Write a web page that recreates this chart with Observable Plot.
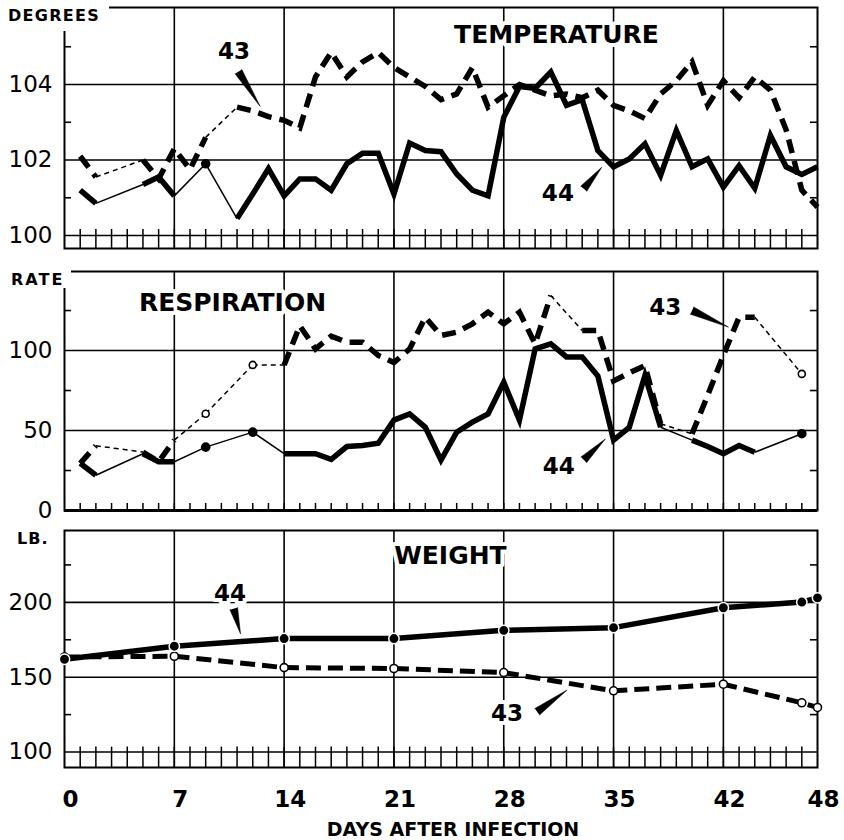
<!DOCTYPE html>
<html><head><meta charset="utf-8">
<script src="https://cdn.jsdelivr.net/npm/d3@7"></script>
<script src="https://cdn.jsdelivr.net/npm/@observablehq/plot@0.6"></script>
<style>
body{margin:0;background:#fff;}
#wrap{position:relative;width:844px;height:840px;background:#fff;overflow:hidden;font-family:"DejaVu Sans",sans-serif;}
.panel{position:absolute;left:0;}
.mask{position:absolute;background:#fff;}
.corner{position:absolute;font-weight:bold;font-size:16px;line-height:16px;color:#000;white-space:nowrap;}
</style></head><body>
<div id="wrap">
  <div class="panel" id="p1" style="top:0"></div>
  <div class="panel" id="p2" style="top:260px"></div>
  <div class="panel" id="p3" style="top:520px"></div>
  <div class="mask" style="left:0;top:0;width:109px;height:31px"></div>
  <div class="corner" style="left:8px;top:8px;letter-spacing:1.3px">DEGREES</div>
  <div class="mask" style="left:0;top:262px;width:71px;height:26px"></div>
  <div class="corner" style="left:11px;top:272px;letter-spacing:2px">RATE</div>
  <div class="corner" style="left:17px;top:531px;letter-spacing:1px">LB.</div>
</div>
<script>
// ---------- data ----------
const xTickLabels = [0, 7, 14, 21, 28, 35, 42, 48];
const weekLines = [7, 14, 21, 28, 35, 42];

const tempTicks = [100, 102, 104];
const tempMinor = [101, 103, 105];
const tempDays43 = [1,2,5,6,7,8,9,11,12,13,14,15,16,17,18,19,20,21,22,23,24,25,26,27,28,29,30,31,32,33,34,35,36,37,38,39,40,41,42,43,44,45,46,47,48];
const temp43 = [102.1,101.55,102.0,101.5,102.3,101.75,102.6,103.4,103.3,103.15,103.05,102.85,104.2,104.85,104.2,104.6,104.85,104.45,104.2,103.95,103.6,103.75,104.45,103.4,103.7,104.0,103.85,103.7,103.75,103.65,103.85,103.45,103.3,103.1,103.75,104.1,104.6,103.45,104.1,103.65,104.2,103.85,102.8,101.2,100.75];
const tempDays44 = [1,2,5,6,7,9,11,12,13,14,15,16,17,18,19,20,21,22,23,24,25,26,27,28,29,30,31,32,33,34,35,36,37,38,39,40,41,42,43,44,45,46,47,48];
const temp44 = [101.2,100.85,101.35,101.55,101.05,101.9,100.45,101.1,101.77,101.05,101.5,101.5,101.2,101.9,102.18,102.18,101.1,102.45,102.25,102.22,101.63,101.2,101.05,103.13,103.95,103.9,104.33,103.45,103.6,102.25,101.82,102.03,102.43,101.6,102.78,101.82,102.03,101.28,101.85,101.25,102.65,101.82,101.62,101.82];

const respTicks = [0, 50, 100];
const respMinor = [25, 75, 125];
const respDays43 = [1,2,5,6,7,9,12,14,15,16,17,18,19,20,21,22,23,24,25,26,27,28,29,30,31,33,34,35,36,37,38,40,41,42,43,44,47];
const resp43 = [29.5,40.5,36.5,30.5,44,60.5,91,91,115.5,101,109,105.2,105.2,97,92.5,101,120.8,109.4,111.5,116.7,124,116.7,124,104.2,134.4,112.5,112.5,81,86,90.6,54.2,47.9,72,97,120.8,120.8,85.4];
const respDays44 = [1,2,5,6,7,9,12,14,15,16,17,18,19,20,21,22,23,24,25,26,27,28,29,30,31,32,33,34,35,36,37,38,40,41,42,43,44,47];
const resp44 = [29.5,22,35.5,30.5,30.5,39.6,49,35.5,35.5,35.5,32,40,40.6,42,56.5,60.4,52,31.5,49,55.2,60.4,80.2,56.5,101,104.2,96,96,84,44,52,84.4,52,44,40,35.5,40.6,36.4,48];

const weightTicks = [100, 150, 200];
const weightMinor = [125, 175, 225];
const weightDays = [0, 7, 14, 21, 28, 35, 42, 47, 48];
const weight44 = [162, 170.7, 175.8, 175.8, 181.3, 183.1, 196.4, 200.2, 203];
const weight43 = [163.5, 164, 156.4, 155.8, 153.1, 140.9, 145.3, 132.9, 129.8];

// annotation placements (data units) kept apart from the data
const tempNotes = [{t: "TEMPERATURE", day: 31.36, v: 105.3, size: 25}, {t: "43", day: 10.8, v: 104.86, size: 23}, {t: "44", day: 31.45, v: 101.1, size: 23}];
const tempLeaders = [{day: 11.09, v: 104.34, len: 41, rot: 148}, {day: 33.1, v: 101.24, len: 28, rot: 40}];
const respNotes = [{t: "RESPIRATION", day: 10.71, v: 129.7, size: 25}, {t: "43", day: 38.3, v: 126.6, size: 23}, {t: "44", day: 31.5, v: 27.2, size: 23}];
const respLeaders = [{day: 40.0, v: 125, len: 40, rot: 114.5}, {day: 33.1, v: 31.7, len: 30, rot: 46}];
const weightNotes = [{t: "WEIGHT", day: 24.6, v: 230.7, size: 25}, {t: "44", day: 10.55, v: 205.7, size: 23}, {t: "43", day: 28.2, v: 125.7, size: 23}];
const weightLeaders = [{day: 10.79, v: 195.8, len: 26, rot: 165}, {day: 30.13, v: 126.9, len: 37, rot: 54}];

// ---------- helpers ----------
const dayTicks = d3.range(1, 48);

function build(days, vals) {
  const pts = days.map((d, i) => ({day: d, v: vals[i]}));
  let run = 0;
  pts.forEach((p, i) => { if (i > 0 && p.day - pts[i - 1].day > 1) run++; p.run = run; });
  const counts = d3.rollup(pts, g => g.length, p => p.run);
  const gaps = [];
  for (let i = 1; i < pts.length; i++) if (pts[i].day - pts[i - 1].day > 1) gaps.push({a: pts[i - 1], b: pts[i]});
  const lone = pts.filter(p => counts.get(p.run) === 1);
  return {pts, gaps, lone};
}

function seriesMarks(days, vals, dashed) {
  const s = build(days, vals);
  const thick = {x: "day", y: "v", z: "run", stroke: "black", strokeWidth: 5.5, strokeLinecap: "butt", strokeLinejoin: "miter", strokeMiterlimit: 4};
  if (dashed) thick.strokeDasharray = "14,8";
  const thin = {x1: d => d.a.day, y1: d => d.a.v, x2: d => d.b.day, y2: d => d.b.v, stroke: "black", strokeWidth: 1.5};
  if (dashed) thin.strokeDasharray = "5,4";
  return [
    Plot.link(s.gaps, thin),
    Plot.line(s.pts, thick),
    dashed
      ? Plot.dot(s.lone, {x: "day", y: "v", r: 3.5, fill: "white", stroke: "black", strokeWidth: 1.6})
      : Plot.dot(s.lone, {x: "day", y: "v", r: 4.8, fill: "black"})
  ];
}

function noteMarks(notes, leaders) {
  return [
    ...leaders.map(d => Plot.spike([d], {x: "day", y: "v", length: d.len, rotate: d.rot, r: 4, fill: "black", fillOpacity: 1, stroke: "black", strokeWidth: 0.5})),
    ...notes.map(d => Plot.text([d], {x: "day", y: "v", text: "t", fontSize: d.size, fontWeight: "bold", fill: "black", stroke: "white", strokeWidth: 8, paintOrder: "stroke"}))
  ];
}

function frameMarks(ticks, minor, yTop, yBottom, rulerTop, hasBaseline) {
  return [
    Plot.ruleX(weekLines, {stroke: "black", strokeWidth: 1.6}),
    Plot.ruleY(ticks.filter(t => hasBaseline || t !== ticks[0]), {stroke: "black", strokeWidth: 1.6}),
    Plot.ruleX(dayTicks, {y1: rulerTop, y2: yBottom, stroke: "black", strokeWidth: 1.5}),
    Plot.ruleY(minor, {x1: 0, x2: 0.45, stroke: "black", strokeWidth: 1.6}),
    Plot.ruleY(minor, {x1: 47.55, x2: 48, stroke: "black", strokeWidth: 1.6}),
    Plot.frame({stroke: "black", strokeWidth: 2}),
    Plot.text(ticks, {y: d => d, text: d => String(d), frameAnchor: "left", textAnchor: "end", lineAnchor: "middle", dx: -12, fontSize: 23, fill: "black"})
  ];
}

const common = {width: 844, marginLeft: 64, marginRight: 27, style: {fontFamily: "DejaVu Sans", background: "white", color: "black", overflow: "visible"}};

// ---------- temperature ----------
const tempLo = 99.656, tempHi = 106.04;
document.getElementById("p1").append(Plot.plot({
  ...common, height: 256, marginTop: 7, marginBottom: 8,
  x: {domain: [0, 48], axis: null},
  y: {domain: [tempLo, tempHi], axis: null},
  marks: [
    ...frameMarks(tempTicks, tempMinor, tempHi, tempLo, 100.16, true),
    ...seriesMarks(tempDays44, temp44, false),
    ...seriesMarks(tempDays43, temp43, true),
    ...noteMarks(tempNotes, tempLeaders)
  ]
}));

// ---------- respiration ----------
const respLo = 0, respHi = 149.4;
document.getElementById("p2").append(Plot.plot({
  ...common, height: 260, marginTop: 11, marginBottom: 10,
  x: {domain: [0, 48], axis: null},
  y: {domain: [respLo, respHi], axis: null},
  marks: [
    ...frameMarks(respTicks, respMinor, respHi, respLo, 4.4, false),
    Plot.ruleY([0], {stroke: "black", strokeWidth: 3}),
    ...seriesMarks(respDays44, resp44, false),
    ...seriesMarks(respDays43, resp43, true),
    ...noteMarks(respNotes, respLeaders)
  ]
}));

// ---------- weight ----------
const wLo = 89.67, wHi = 248;
const w44 = weightDays.map((d, i) => ({day: d, v: weight44[i]}));
const w43 = weightDays.map((d, i) => ({day: d, v: weight43[i]}));
document.getElementById("p3").append(Plot.plot({
  ...common, height: 320, marginTop: 10, marginBottom: 73,
  x: {domain: [0, 48], axis: null},
  y: {domain: [wLo, wHi], axis: null},
  marks: [
    ...frameMarks(weightTicks, weightMinor, wHi, wLo, 103.3, true),
    Plot.line(w43, {x: "day", y: "v", stroke: "black", strokeWidth: 5, strokeDasharray: "15,7", strokeLinecap: "butt"}),
    Plot.line(w44, {x: "day", y: "v", stroke: "black", strokeWidth: 5.5, strokeLinecap: "butt"}),
    Plot.dot(w43, {x: "day", y: "v", r: 4, fill: "white", stroke: "black", strokeWidth: 1.6}),
    Plot.dot(w44, {x: "day", y: "v", r: 5.2, fill: "black", stroke: "white", strokeWidth: 1.5}),
    ...noteMarks(weightNotes, weightLeaders),
    Plot.text(xTickLabels, {x: d => d, text: d => String(d), frameAnchor: "bottom", lineAnchor: "middle", dy: 32, dx: 6, fontSize: 23, fontWeight: "bold", fill: "black"}),
    Plot.text(["DAYS AFTER INFECTION"], {text: d => d, frameAnchor: "bottom", lineAnchor: "middle", dx: 12, dy: 62, fontSize: 19, fontWeight: "bold", fill: "black"})
  ]
}));
</script>
</body></html>
